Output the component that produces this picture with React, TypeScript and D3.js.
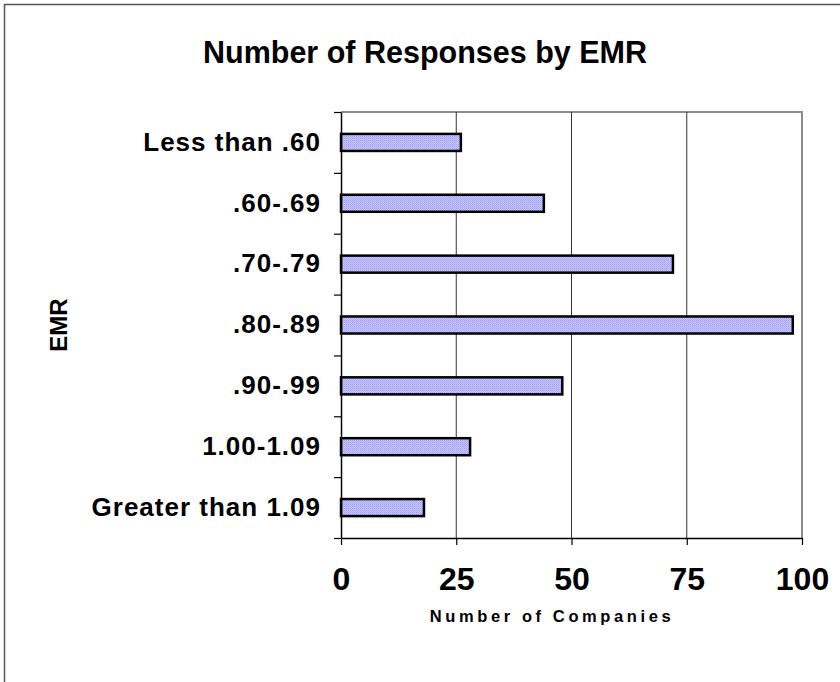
import * as d3 from "d3";
import { useRef, useEffect } from "react";

const categories = [
  "Less than .60",
  ".60-.69",
  ".70-.79",
  ".80-.89",
  ".90-.99",
  "1.00-1.09",
  "Greater than 1.09",
];
const companies = [26, 44, 72, 98, 48, 28, 18];
const xTicks = [0, 25, 50, 75, 100];

const width = 840;
const height = 682;
const marginLeft = 341;
const marginRight = 38;
const marginTop = 112;
const marginBottom = 144;
const font = "Liberation Sans, Arial, sans-serif";

export default function App() {
  const gx = useRef(null);
  const gy = useRef(null);
  const gyTicks = useRef(null);

  const x = d3.scaleLinear([0, 100], [marginLeft, width - marginRight]);
  const y = d3.scaleBand(categories, [marginTop, height - marginBottom]);
  const yEdges = d3.scaleLinear([0, categories.length], [marginTop, height - marginBottom]);
  const barH = y.bandwidth() * 0.28;

  useEffect(() => {
    const g = d3.select(gx.current);
    g.call(d3.axisBottom(x).tickValues(xTicks).tickSize(7).tickSizeOuter(0).tickPadding(22));
    g.select(".domain").attr("stroke", "#000").attr("stroke-width", 1.5);
    g.selectAll(".tick line").attr("stroke", "#000").attr("stroke-width", 1.2);
    g.selectAll(".tick text")
      .attr("font-family", font)
      .attr("font-weight", "bold")
      .attr("font-size", 32)
      .attr("fill", "#000");
  }, []);

  useEffect(() => {
    const g = d3.select(gyTicks.current);
    g.call(
      d3.axisLeft(yEdges).tickValues(d3.range(categories.length + 1)).tickSize(7).tickSizeOuter(0).tickFormat(() => "")
    );
    g.select(".domain").attr("stroke", "#000").attr("stroke-width", 1.5);
    g.selectAll(".tick line").attr("stroke", "#000").attr("stroke-width", 1.2);

    const gl = d3.select(gy.current);
    gl.call(d3.axisLeft(y).tickSize(0).tickPadding(20));
    gl.select(".domain").remove();
    gl.selectAll(".tick text")
      .attr("font-family", font)
      .attr("font-weight", "bold")
      .attr("font-size", 26)
      .attr("letter-spacing", 1)
      .attr("fill", "#000");
  }, []);

  return (
    <svg
      width={width}
      height={height}
      style={{ position: "absolute", left: 0, top: 0, background: "#fff" }}
    >
      <defs>
        <pattern id="hatch" width="2" height="2" patternUnits="userSpaceOnUse">
          <rect width="2" height="2" fill="#c8c8ff" />
          <rect width="1" height="1" fill="#a0a0f6" />
          <rect x="1" y="1" width="1" height="1" fill="#acacfa" />
        </pattern>
      </defs>
      {/* chart frame */}
      <path d={`M4.5,${height} V4.5 H${width}`} fill="none" stroke="#555" strokeWidth={1.5} />

      <text
        x={425}
        y={63}
        textAnchor="middle"
        fontFamily={font}
        fontWeight="bold"
        fontSize={30.5}
      >
        Number of Responses by EMR
      </text>

      {/* plot area border */}
      <path
        d={`M${marginLeft},${marginTop} H${width - marginRight} V${height - marginBottom}`}
        fill="none"
        stroke="#8c8c8c"
        strokeWidth={2}
      />
      {xTicks.slice(1, -1).map((t) => (
        <line
          key={t}
          x1={x(t)}
          x2={x(t)}
          y1={marginTop}
          y2={height - marginBottom}
          stroke="#333"
          strokeWidth={1}
        />
      ))}

      {categories.map((c, i) => (
        <rect
          key={c}
          x={x(0)}
          y={y(c) + (y.bandwidth() - barH) / 2}
          width={x(companies[i]) - x(0)}
          height={barH}
          fill="url(#hatch)"
          stroke="#000"
          strokeWidth={2.5}
        />
      ))}

      <g ref={gyTicks} transform={`translate(${marginLeft},0)`} />
      <g ref={gy} transform={`translate(${marginLeft},0)`} />
      <g ref={gx} transform={`translate(0,${height - marginBottom})`} />

      <text
        transform={`translate(67,${(marginTop + height - marginBottom) / 2}) rotate(-90)`}
        textAnchor="middle"
        fontFamily={font}
        fontWeight="bold"
        fontSize={24}
      >
        EMR
      </text>
      <text
        x={552}
        y={622}
        textAnchor="middle"
        fontFamily={font}
        fontWeight="bold"
        fontSize={16.5}
        letterSpacing={3.6}
      >
        Number of Companies
      </text>
    </svg>
  );
}
